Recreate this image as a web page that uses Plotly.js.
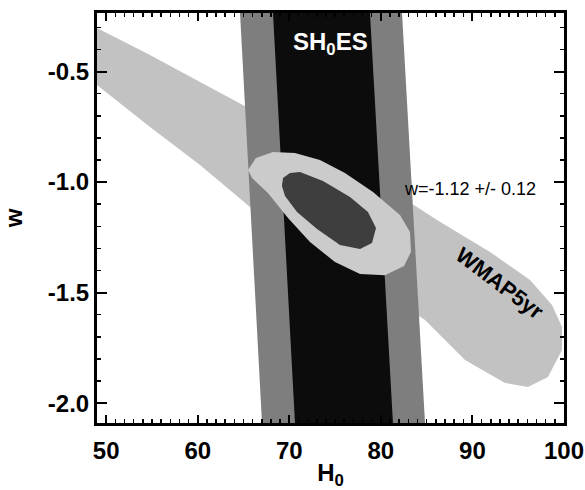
<!DOCTYPE html>
<html>
<head>
<meta charset="utf-8">
<script src="https://cdn.plot.ly/plotly-3.0.1.min.js"></script>
<style>html,body{margin:0;padding:0;background:#fff}#chart{width:585px;height:490px}</style>
</head>
<body>
<div id="chart"></div>
<script>
// WMAP 5-year contour (H0, w) boundary
const wmapH0 = [49.0, 54.79, 60.25, 64.94, 71.17, 76.63, 82.09, 86.13, 91.92, 96.29, 98.69, 99.78, 99.78, 98.25, 96.07, 93.56, 89.19, 84.82, 76.63, 71.17, 65.71, 60.25, 54.79, 49.0];
const wmapW  = [-0.303, -0.425, -0.547, -0.651, -0.796, -0.927, -1.063, -1.172, -1.316, -1.443, -1.556, -1.656, -1.760, -1.882, -1.927, -1.909, -1.805, -1.624, -1.398, -1.244, -1.113, -0.923, -0.751, -0.561];

// SH0ES band, outer (2 sigma) and inner (1 sigma)
const shoesOuterH0 = [64.62, 82.31, 84.82, 67.02];
const shoesOuterW  = [-0.235, -0.235, -2.09, -2.09];
const shoesInnerH0 = [68.22, 78.81, 81.32, 70.62];
const shoesInnerW  = [-0.235, -0.235, -2.09, -2.09];

// Combined contours
const combOuterH0 = [65.49, 66.36, 68.22, 70.62, 73.35, 76.08, 79.14, 82.09, 83.18, 83.29, 82.53, 80.45, 77.72, 74.99, 72.26, 69.86, 67.67, 65.93];
const combOuterW  = [-0.945, -0.891, -0.864, -0.868, -0.900, -0.959, -1.045, -1.149, -1.226, -1.316, -1.380, -1.421, -1.416, -1.362, -1.271, -1.163, -1.049, -0.982];
const combInnerH0 = [69.31, 70.08, 71.17, 73.68, 76.63, 78.59, 79.47, 79.03, 77.72, 75.54, 73.03, 70.84, 69.53, 69.20];
const combInnerW  = [-0.982, -0.959, -0.954, -0.995, -1.068, -1.135, -1.208, -1.276, -1.303, -1.285, -1.212, -1.135, -1.063, -1.018];

// Tick labels
const xTickVals = [50, 60, 70, 80, 90, 100];
const xTickText = ['50', '60', '70', '80', '90', '100'];
const yTickVals = [-2.0, -1.5, -1.0, -0.5];
const yTickText = ['-2.0', '-1.5', '-1.0', '-0.5'];

const FONT = 'Liberation Sans, Arial, Helvetica, sans-serif';

function region(x, y, color) {
  return {x: x, y: y, type: 'scatter', mode: 'lines', fill: 'toself',
    fillcolor: color, line: {width: 0, color: color}, hoverinfo: 'skip', showlegend: false};
}

const data = [
  region(wmapH0, wmapW, '#c2c2c2'),
  region(shoesOuterH0, shoesOuterW, '#7e7e7e'),
  region(shoesInnerH0, shoesInnerW, '#0c0c0c'),
  region(combOuterH0, combOuterW, '#cbcbcb'),
  region(combInnerH0, combInnerW, '#3e3e3e')
];

const axisCommon = {
  showgrid: false, zeroline: false, showline: true, linewidth: 3, linecolor: '#000',
  mirror: 'ticks', ticks: 'inside', tickwidth: 2, tickcolor: '#000',
  tickfont: {family: FONT, size: 24, weight: 'bold', color: '#000'}
};

const layout = {
  width: 585, height: 490,
  margin: {l: 97, r: 21, t: 13, b: 67},
  paper_bgcolor: '#fff', plot_bgcolor: '#fff',
  showlegend: false,
  xaxis: Object.assign({}, axisCommon, {
    range: [49, 100], tickmode: 'array', tickvals: xTickVals, ticktext: xTickText, ticklen: 8,
    ticklabelstandoff: 4,
    minor: {tickmode: 'linear', tick0: 50, dtick: 1, ticks: 'inside', ticklen: 4, tickwidth: 1.5, tickcolor: '#000', showgrid: false},
    title: {text: 'H<sub>0</sub>', font: {family: FONT, size: 24, weight: 'bold', color: '#000'}, standoff: 4}
  }),
  yaxis: Object.assign({}, axisCommon, {
    range: [-2.09, -0.235], tickmode: 'array', tickvals: yTickVals, ticktext: yTickText, ticklen: 10,
    minor: {tickmode: 'linear', tick0: -2, dtick: 0.1, ticks: 'inside', ticklen: 4, tickwidth: 1.5, tickcolor: '#000', showgrid: false},
    title: {text: 'w', font: {family: FONT, size: 24, weight: 'bold', color: '#000'}, standoff: 19}
  }),
  annotations: [
    {x: 74.45, y: -0.375, xref: 'x', yref: 'y', text: 'SH<sub>0</sub>ES', showarrow: false,
     font: {family: FONT, size: 24, weight: 'bold', color: '#fff'}, xanchor: 'center', yanchor: 'middle'},
    {x: 82.3, y: -1.031, xref: 'x', yref: 'y', text: 'w=-1.12 +/- 0.12', showarrow: false,
     font: {family: FONT, size: 18, color: '#000'}, xanchor: 'left', yanchor: 'middle'},
    {x: 93.0, y: -1.46, xref: 'x', yref: 'y', text: 'WMAP5yr', showarrow: false, textangle: 37,
     font: {family: FONT, size: 22, weight: 'bold', color: '#000'}, xanchor: 'center', yanchor: 'middle'}
  ]
};

Plotly.newPlot('chart', data, layout, {displayModeBar: false, staticPlot: true});
</script>
</body>
</html>
